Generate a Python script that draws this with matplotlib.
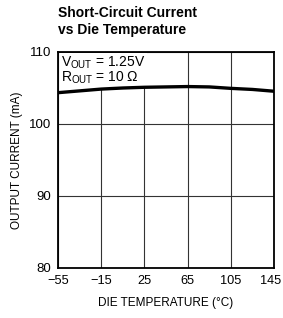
import matplotlib
matplotlib.use('Agg')
import matplotlib.pyplot as plt
import matplotlib.transforms as mtransforms

# data
temp = [-55, -35, -15, 5, 25, 45, 65, 85, 105, 125, 145]
current = [104.35, 104.6, 104.85, 105.0, 105.1, 105.15, 105.2, 105.15, 104.95, 104.8, 104.55]
xticks = [-55, -15, 25, 65, 105, 145]
yticks = [80, 90, 100, 110]

plt.rcParams['font.family'] = ['Liberation Sans', 'DejaVu Sans']

fig = plt.figure(figsize=(2.83, 3.18), dpi=100)
ax = fig.add_axes([58 / 283, 1 - 268 / 318, 216 / 283, 216 / 318])

ax.plot(temp, current, color='black', lw=2.4, zorder=5)

ax.set_xlim(-55, 145)
ax.set_ylim(80, 110)
ax.set_xticks(xticks)
ax.set_yticks(yticks)
ax.set_xticklabels([str(t).replace('-', '\u2212') for t in xticks], fontsize=9.2)
ax.set_yticklabels([str(t) for t in yticks], fontsize=9.5)
ax.tick_params(length=0, pad=5)
ax.grid(True, color='#333333', lw=0.8)
ax.set_axisbelow(True)
for s in ax.spines.values():
    s.set_linewidth(1.3)

# last x label sits right at the figure edge, nudge it in a bit
last = ax.get_xticklabels()[-1]
last.set_transform(last.get_transform() +
                   mtransforms.ScaledTranslation(-3 / 100, 0, fig.dpi_scale_trans))

ax.set_xlabel('DIE TEMPERATURE (\u00b0C)', fontsize=8.5, labelpad=7)
ax.set_ylabel('OUTPUT CURRENT (mA)', fontsize=8.5, labelpad=4)

ax.text(0.015, 0.99, '$\\mathregular{V_{OUT}}$ = 1.25V\n$\\mathregular{R_{OUT}}$ = 10\u2009\u03a9',
        transform=ax.transAxes, ha='left', va='top', fontsize=10, linespacing=0.95,
        bbox=dict(facecolor='white', edgecolor='none', pad=1.0), zorder=4)

fig.text(58 / 283, 1 - 6 / 318, 'Short-Circuit Current\nvs Die Temperature',
         ha='left', va='top', fontsize=10, fontweight='bold', linespacing=1.25,
         fontstretch='condensed')

fig.savefig('out.png', dpi=100)
